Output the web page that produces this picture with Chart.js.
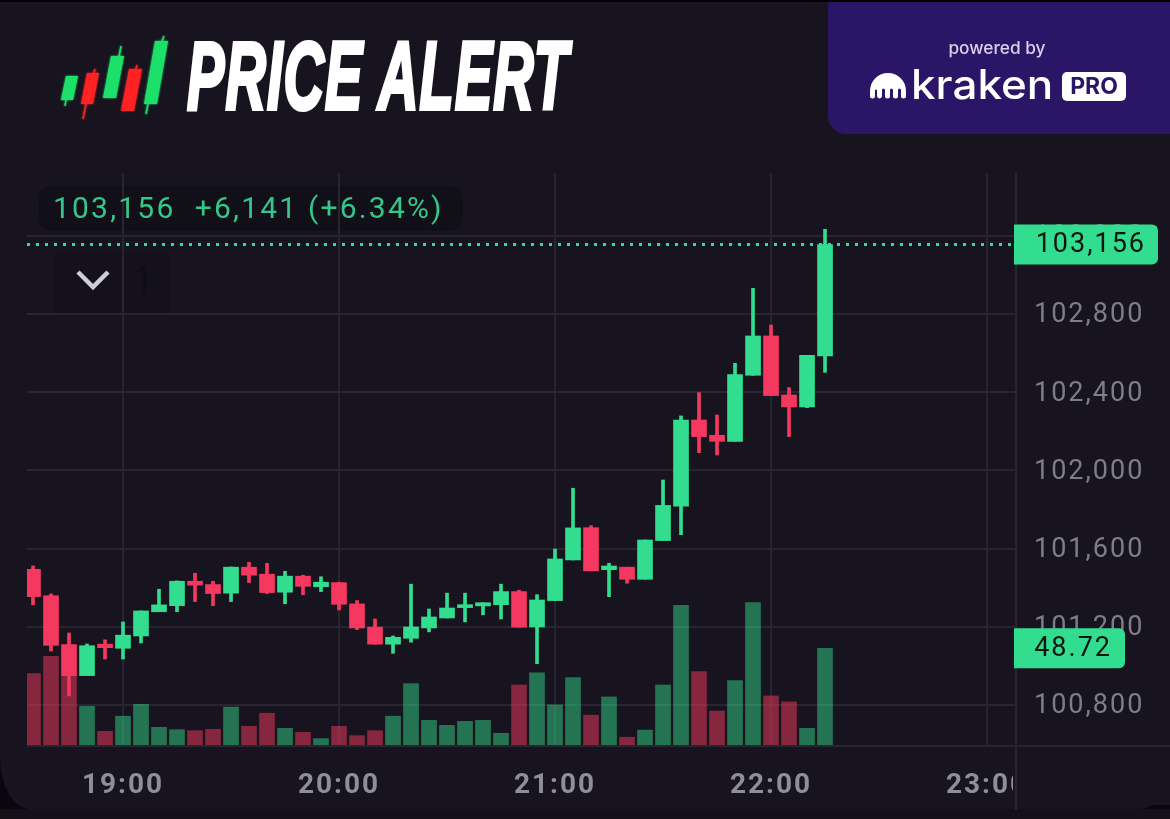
<!DOCTYPE html>
<html>
<head>
<meta charset="utf-8">
<title>Price Alert</title>
<script src="https://cdn.jsdelivr.net/npm/chart.js@4"></script>
<style>
  html, body { margin: 0; padding: 0; width: 1170px; height: 819px; overflow: hidden; background: #13101a; }
  #frame { position: absolute; left: 0; top: 2px; width: 1170px; height: 807px; background: #0a0610; }
  #card { position: absolute; left: 0; top: 0; width: 1170px; height: 807px; background: #17141f; border-radius: 0 0 30px 30px / 0 0 52px 52px; }
  #topline { position: absolute; left: 0; top: 0; width: 1170px; height: 2px; background: #000; }
  canvas { position: absolute; left: 0; top: 0; }
  .abs { position: absolute; white-space: nowrap; }
  #logo { position: absolute; left: 0; top: 0; }
  #title { left: 187px; top: 21px; font: italic 700 97px/110px "Liberation Sans", sans-serif; color: #fff; -webkit-text-stroke: 4px #fff; transform-origin: 0 0; transform: scaleX(0.576); letter-spacing: 2px; }
  #panel { left: 828px; top: 2px; width: 342px; height: 132px; background: #2b1567; border-radius: 0 0 0 18px; }
  #powered { left: 828px; width: 338px; top: 37px; text-align: center; font: 500 17.3px/22px Inter, sans-serif; color: #d8d2e8; }
  #kraken { left: 911px; top: 56px; font: 500 44px/52px Inter, sans-serif; color: #fff; transform-origin: 0 100%; transform: scaleY(0.92); }
  #pro { left: 1062px; top: 72px; width: 64px; height: 29px; border-radius: 5px; background: #fff; color: #2b1567; text-align: center; font: 700 23px/29px Inter, sans-serif; }
  #status { left: 39px; top: 186px; width: 424px; height: 45px; border-radius: 12px; background: #110f18; }
  #statustext { left: 53px; top: 190px; font: 400 30px/36px Roboto, sans-serif; letter-spacing: 2.2px; color: #35c68a; white-space: pre; }
  #collapse { left: 54px; top: 252px; width: 116px; height: 61px; border-radius: 6px; background: #14111c; }
  #collapsenum { left: 134px; top: 258px; font: 400 38px/44px Inter, sans-serif; color: #0e0c14; }
</style>
</head>
<body>
<div id="topline"></div>
<div id="frame"><div id="card"></div></div>
<div class="abs" id="status"></div>
<div class="abs" id="collapse"></div>
<canvas id="chart" width="1170" height="819"></canvas>

<svg id="logo" width="200" height="320">
  <defs>
    <filter id="glow" x="-30%" y="-30%" width="160%" height="160%"><feGaussianBlur stdDeviation="1.2" result="b"/><feMerge><feMergeNode in="b"/><feMergeNode in="SourceGraphic"/></feMerge></filter>
  </defs>
  <g filter="url(#glow)">
    <g fill="#1fe06a" stroke="#1fe06a">
      <polygon points="61,100 73,100 78,76 66,76" stroke="none"/><line x1="65" y1="106" x2="66" y2="100" stroke-width="1.5"/>
      <polygon points="103,98 116,98 124,56 111,56" stroke="none"/><line x1="119" y1="57" x2="121" y2="46" stroke-width="1.5"/>
      <polygon points="144,104 157,104 168,41 155,41" stroke="none"/><line x1="162" y1="41" x2="164" y2="36" stroke-width="1.5"/><line x1="148" y1="104" x2="146" y2="114" stroke-width="1.5"/>
    </g>
    <g fill="#ff2323" stroke="#ff2323">
      <polygon points="81,104 93,104 99,73 87,73" stroke="none"/><line x1="94" y1="73" x2="95" y2="69" stroke-width="1.5"/><line x1="86" y1="104" x2="83" y2="119" stroke-width="1.5"/>
      <polygon points="121,111 134,111 142,69 129,69" stroke="none"/><line x1="136" y1="69" x2="137" y2="65" stroke-width="1.5"/>
    </g>
  </g>
  <polyline points="78,272 93,287 108,272" fill="none" stroke="#cfcdd9" stroke-width="4.5"/>
</svg>
<div class="abs" id="title">PRICE ALERT</div>

<div class="abs" id="panel"></div>
<div class="abs" id="powered">powered by</div>
<svg class="abs" style="left:868px;top:70px" width="44" height="32">
  <path d="M2 26 V21 A18 18 0 0 1 38 21 V26 A2.5 2.5 0 0 1 33 26 V20 A1.5 1.5 0 0 0 30 20 V26 A2.5 2.5 0 0 1 25 26 V20 A1.5 1.5 0 0 0 22 20 V26 A2.5 2.5 0 0 1 17 26 V20 A1.5 1.5 0 0 0 14 20 V26 A2.5 2.5 0 0 1 9 26 V20 A1.5 1.5 0 0 0 7 20 V26 A2.5 2.5 0 0 1 2 26 Z" fill="#fff"/>
</svg>
<div class="abs" id="kraken">kraken</div>
<div class="abs" id="pro">PRO</div>

<div class="abs" id="statustext">103,156  +6,141 (+6.34%)</div>
<div class="abs" id="collapsenum">1</div>

<script>
// minutes since midnight, one candle every 5 min from 18:35
const times = [1115,1120,1125,1130,1135,1140,1145,1150,1155,1160,1165,1170,1175,1180,1185,1190,1195,1200,1205,1210,1215,1220,1225,1230,1235,1240,1245,1250,1255,1260,1265,1270,1275,1280,1285,1290,1295,1300,1305,1310,1315,1320,1325,1330,1335];

const opens  = [101494,101359,101109,100950,101111,101090,101153,101277,101308,101433,101416,101372,101505,101469,101377,101459,101405,101426,101317,101198,101111,101141,101194,101245,101298,101307,101313,101380,101199,101334,101542,101707,101492,101505,101443,101641,101817,102258,102180,102149,102487,102688,102386,102325,102586];
const closes = [101354,101105,100950,101103,101093,101157,101281,101312,101433,101413,101370,101505,101464,101375,101459,101407,101428,101315,101194,101111,101146,101199,101250,101296,101313,101323,101380,101198,101337,101547,101706,101486,101511,101443,101644,101821,102258,102173,102149,102490,102688,102383,102325,102589,103156];
const highs  = [101511,101368,101168,101112,101133,101225,101281,101392,101435,101474,101433,101506,101530,101525,101484,101464,101456,101428,101334,101240,101153,101418,101291,101372,101372,101323,101418,101387,101364,101598,101909,101717,101525,101505,101644,101951,102279,102398,102284,102548,102932,102744,102424,102589,103234];
const lows   = [101312,101076,100846,100950,101035,101035,101117,101277,101277,101329,101308,101329,101426,101370,101318,101364,101380,101286,101185,101111,101064,101121,101174,101245,101225,101261,101240,101198,101011,101334,101542,101486,101354,101423,101443,101641,101671,102091,102079,102149,102487,102383,102173,102321,102502];
const volumes = [35.9,44.7,35.3,19.5,6.9,14.5,20.5,8.9,7.7,7.2,7.9,19.1,9.4,16.0,8.4,6.4,3.2,9.4,4.7,7.2,14.5,30.9,12.4,9.9,11.9,12.4,5.9,30.2,36.4,20.2,33.9,15.0,24.2,3.9,7.5,30.2,70.3,37.0,17.1,32.4,71.7,24.7,21.7,8.4,48.72];

const priceTicks = [100800,101200,101600,102000,102400,102800,103200];

const GREEN = '#33dd8f', RED = '#f5385f';
const GREEN_VOL = 'rgba(51,221,143,0.48)', RED_VOL = 'rgba(245,56,95,0.5)';
const GRID = '#282530', TICK_Y = '#7e7d8b', TICK_X = '#8f8e9d';

const isUp = i => closes[i] >= opens[i];
const colors = times.map((t, i) => isUp(i) ? GREEN : RED);
const volColors = times.map((t, i) => isUp(i) ? GREEN_VOL : RED_VOL);

const xMin = 1113.33, xMax = 1388.05;
const lastPrice = closes[closes.length - 1];
const lastVolume = volumes[volumes.length - 1];

function drawTag(ctx, right, cy, text, textRight) {
  ctx.save();
  ctx.fillStyle = GREEN;
  ctx.beginPath();
  ctx.roundRect(1014, cy - 20, right - 1014, 40, [0, 6, 6, 0]);
  ctx.fill();
  ctx.fillStyle = '#0c1510';
  ctx.font = '400 27px Roboto, sans-serif';
  ctx.textAlign = 'right';
  ctx.textBaseline = 'middle';
  ctx.fillText(text, textRight, cy + 1);
  ctx.restore();
}

const overlay = {
  id: 'overlay',
  beforeDraw(chart) {
    chart.ctx.letterSpacing = '2px';
  },
  afterDraw(chart) {
    const ctx = chart.ctx, area = chart.chartArea;
    // price panel hides the tail of the 23:00 label
    ctx.fillStyle = '#17141f';
    ctx.fillRect(area.right - 3, area.bottom + 5, 160, 55);
    ctx.fillStyle = GRID;
    ctx.fillRect(area.right - 1, area.top, 2, 810 - area.top);
    ctx.fillRect(area.left, area.bottom, 1170 - area.left, 2);
    drawTag(ctx, 1158, chart.scales.y.getPixelForValue(lastPrice), lastPrice.toLocaleString('en-US'), 1146);
    drawTag(ctx, 1125, chart.scales.vol.getPixelForValue(lastVolume), lastVolume.toFixed(2), 1112);
  }
};

new Chart(document.getElementById('chart'), {
  type: 'bar',
  plugins: [overlay],
  data: {
    datasets: [
      {
        type: 'line', order: 0, yAxisID: 'y',
        data: [{x: xMin, y: lastPrice}, {x: xMax - 0.2, y: lastPrice}],
        borderColor: GREEN, borderWidth: 3, borderDash: [3, 6], pointRadius: 0
      },
      {
        order: 1, yAxisID: 'y', barThickness: 15, backgroundColor: colors,
        data: times.map((t, i) => ({x: t, y: [opens[i], closes[i]]}))
      },
      {
        order: 2, yAxisID: 'y', barThickness: 3, backgroundColor: colors,
        data: times.map((t, i) => ({x: t, y: [lows[i], highs[i]]}))
      },
      {
        order: 3, yAxisID: 'vol', barThickness: 15, backgroundColor: volColors,
        data: times.map((t, i) => ({x: t, y: volumes[i]}))
      }
    ]
  },
  options: {
    responsive: false,
    animation: false,
    devicePixelRatio: 1,
    grouped: false,
    layout: { padding: { left: 27, top: 173, right: 0, bottom: 0 } },
    plugins: { legend: { display: false }, tooltip: { enabled: false } },
    elements: { bar: { borderWidth: 0, borderSkipped: false } },
    scales: {
      x: {
        type: 'linear', min: xMin, max: xMax, offset: false,
        afterFit: s => { s.height = 74; },
        border: { display: false },
        grid: { color: GRID, lineWidth: 2, drawTicks: false, offset: false },
        ticks: {
          stepSize: 60, includeBounds: false, autoSkip: false, maxRotation: 0, padding: 24,
          color: TICK_X, font: { family: 'Roboto', size: 28, weight: '700' },
          callback: v => `${Math.floor(v / 60)}:00`
        }
      },
      y: {
        position: 'right', min: 100595, max: 103522,
        afterFit: s => { s.width = 154; },
        afterBuildTicks: s => { s.ticks = priceTicks.map(value => ({value})); },
        border: { display: false },
        grid: { color: GRID, lineWidth: 2, drawTicks: false },
        ticks: {
          padding: 18, color: TICK_Y, font: { family: 'Roboto', size: 27, weight: '400', lineHeight: '3px' },
          // empty first line nudges the label down by half a line height
          callback: v => ['', v.toLocaleString('en-US')]
        }
      },
      vol: { display: false, min: 0, max: 288 }
    }
  }
});
</script>
</body>
</html>
